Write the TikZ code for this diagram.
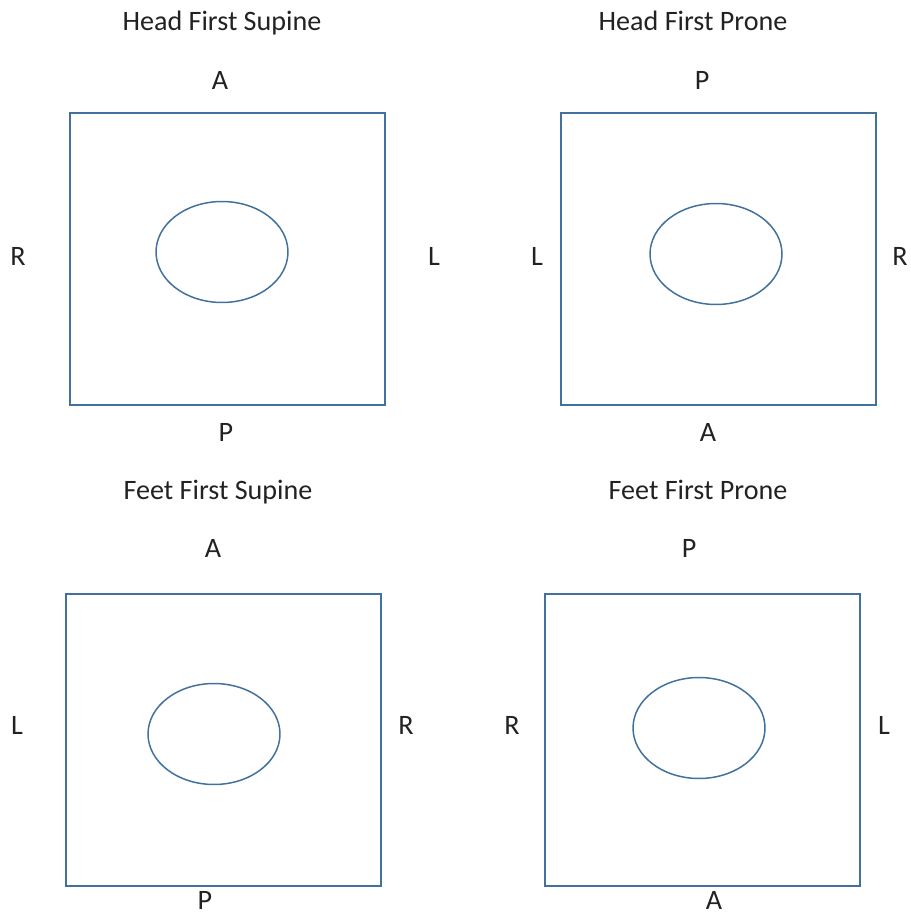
\documentclass[tikz,border=0pt]{standalone}
\usepackage{fontspec}
\setmainfont{Carlito}
\usetikzlibrary{shapes.geometric}
\definecolor{frame}{HTML}{41719C}
\definecolor{ink}{HTML}{222222}

\begin{document}
\begin{tikzpicture}[x=0.02cm,y=-0.02cm,
    every node/.style={font=\fontsize{16}{18}\selectfont,text=ink,
                       text height=0.65em,text depth=0pt,yshift=-1.7pt},
    slab/.style={draw=frame,line width=0.85pt,minimum width=6.3cm,
                 minimum height=5.84cm,inner sep=0pt,yshift=1.7pt},
    body/.style={ellipse,draw=frame,line width=0.85pt,minimum width=2.64cm,
                 minimum height=2.02cm,inner sep=0pt,yshift=1.7pt}]
  \useasboundingbox (0,0) rectangle (910,918);

  % Head first, supine
  \node (hfs title) at (222,22) {Head First Supine};
  \node[slab] (hfs box) at (227.5,259) {};
  \node[body] (hfs body) at (222,252) {};
  \node (hfs top) at (220,81) {A};
  \node (hfs bottom) at (226,433) {P};
  \node (hfs left) at (18,257) {R};
  \node (hfs right) at (434,257) {L};

  % Head first, prone
  \node (hfp title) at (693,22) {Head First Prone};
  \node[slab] (hfp box) at (718.5,259) {};
  \node[body] (hfp body) at (716,254) {};
  \node (hfp top) at (702,81) {P};
  \node (hfp bottom) at (708,433) {A};
  \node (hfp left) at (537,257) {L};
  \node (hfp right) at (900,257) {R};

  % Feet first, supine
  \node (ffs title) at (218,491) {Feet First Supine};
  \node[slab] (ffs box) at (223.5,740) {};
  \node[body] (ffs body) at (214,734) {};
  \node (ffs top) at (213,549) {A};
  \node (ffs bottom) at (205,901) {P};
  \node (ffs left) at (17,726) {L};
  \node (ffs right) at (406,726) {R};

  % Feet first, prone
  \node (ffp title) at (698,491) {Feet First Prone};
  \node[slab] (ffp box) at (702.5,740) {};
  \node[body] (ffp body) at (699,728) {};
  \node (ffp top) at (689,549) {P};
  \node (ffp bottom) at (714,901) {A};
  \node (ffp left) at (512,726) {R};
  \node (ffp right) at (884,726) {L};
\end{tikzpicture}
\end{document}
